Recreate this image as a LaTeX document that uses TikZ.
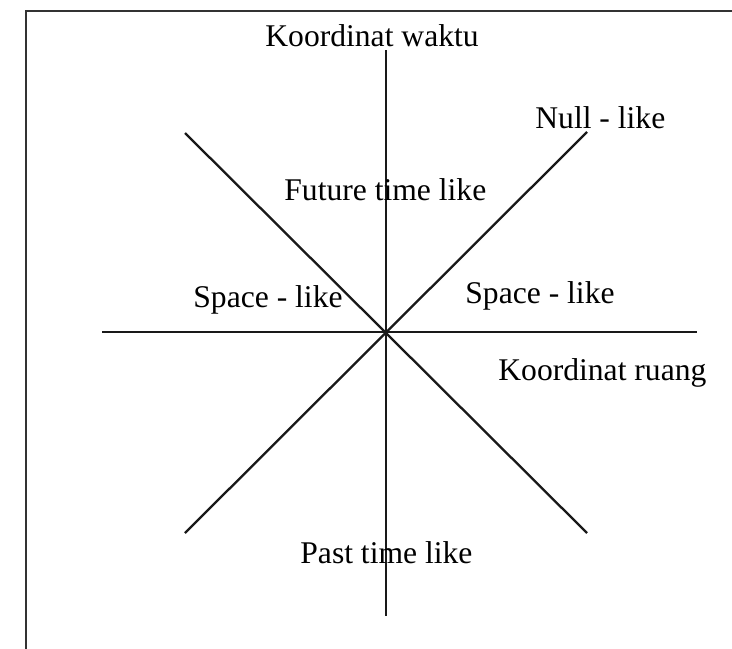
\documentclass[tikz,border=0pt]{standalone}
\usepackage{fontspec}
\setmainfont{Liberation Serif}
\begin{document}
\begin{tikzpicture}[x=0.5pt,y=-0.5pt,
  axis/.style={line width=1.15pt,draw=black!90},
  lbl/.style={anchor=base west,inner sep=0pt,font=\fontsize{15.8}{18}\selectfont}]
\useasboundingbox (0,0) rectangle (732,648);
\begin{scope}
\clip (0,0) rectangle (732,648);
\draw[line width=1.15pt,draw=black!80] (26,700) -- (26,11) -- (760,11);
\end{scope}
\coordinate (O) at (386,332);
\coordinate (T) at (386,50);
\coordinate (B) at (386,616);
\coordinate (L) at (102,332);
\coordinate (R) at (697,332);
\coordinate (NW) at (185,133);
\coordinate (NE) at (587,132);
\coordinate (SW) at (185,533);
\coordinate (SE) at (587,533);
\draw[axis] (T) -- (B);
\draw[axis] (L) -- (R);
\draw[axis] (NW) -- (SE);
\draw[axis] (SW) -- (NE);
\node[lbl] (kw) at (265,46) {Koordinat waktu};
\node[lbl] (nl) at (535,128) {Null - like};
\node[lbl] (ft) at (284,200) {Future time like};
\node[lbl] (sl) at (193,307) {Space - like};
\node[lbl] (sr) at (465,303) {Space - like};
\node[lbl] (kr) at (498,380) {Koordinat ruang};
\node[lbl] (pt) at (300,563) {Past time like};
\end{tikzpicture}
\end{document}
